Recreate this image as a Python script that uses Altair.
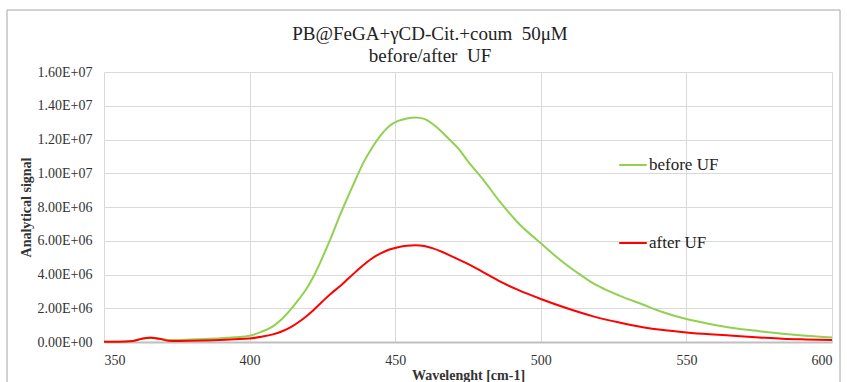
import altair as alt
import pandas as pd

wl_before = [350, 355, 360, 363, 366, 369, 372, 375, 380, 385, 390, 395, 400, 404, 408, 411, 414, 417,
             419.3, 422, 425, 428, 431, 434, 436.5, 439, 442, 445, 448, 451, 454, 457, 460, 463, 466,
             469, 472, 475, 480.4, 486, 492, 500, 505, 509, 513, 516, 519, 522, 527, 535, 542, 550,
             558, 566, 575, 583, 591, 600]
sig_before = [2e4, 2e4, 6e4, 2.0e5, 2.6e5, 2.0e5, 1.1e5, 1.2e5, 1.5e5, 1.8e5, 2.2e5, 2.8e5, 3.7e5, 6.0e5,
              9.3e5, 1.35e6, 1.9e6, 2.55e6, 3.1e6, 3.9e6, 5.0e6, 6.2e6, 7.5e6, 8.7e6, 9.67e6, 1.06e7,
              1.15e7, 1.225e7, 1.28e7, 1.31e7, 1.325e7, 1.331e7, 1.322e7, 1.29e7, 1.245e7, 1.194e7,
              1.14e7, 1.07e7, 9.58e6, 8.3e6, 7.1e6, 5.85e6, 5.1e6, 4.55e6, 4.05e6, 3.7e6, 3.38e6,
              3.12e6, 2.75e6, 2.22e6, 1.76e6, 1.36e6, 1.07e6, 8.3e5, 6.4e5, 4.9e5, 3.7e5, 2.7e5]

wl_after = [350, 355, 360, 363, 366, 369, 372, 375, 380, 385, 390, 395, 400, 404, 408, 411, 414, 417,
            419.3, 422, 425, 428, 431, 434, 436.5, 439, 442, 445, 448, 451, 454, 457, 460, 463, 466,
            470, 474.6, 479, 483, 487, 492, 500, 509, 518, 527, 535, 542, 550, 558, 566, 575, 583,
            591, 600]
sig_after = [1.5e4, 1.5e4, 6e4, 1.9e5, 2.5e5, 1.9e5, 8e4, 6e4, 7e4, 9e4, 1.2e5, 1.6e5, 2.1e5, 3.1e5,
             4.5e5, 6.2e5, 8.6e5, 1.2e6, 1.5e6, 1.9e6, 2.4e6, 2.88e6, 3.3e6, 3.78e6, 4.17e6, 4.55e6,
             4.95e6, 5.25e6, 5.48e6, 5.62e6, 5.71e6, 5.74e6, 5.69e6, 5.55e6, 5.35e6, 5.03e6, 4.66e6,
             4.26e6, 3.87e6, 3.5e6, 3.1e6, 2.55e6, 2.0e6, 1.52e6, 1.15e6, 8.8e5, 7.1e5, 5.7e5,
             4.6e5, 3.7e5, 2.7e5, 1.9e5, 1.5e5, 1.2e5]

series_names = ["before UF", "after UF"]
series_colors = ["#92D050", "#FF0000"]
x_ticks = [350, 400, 450, 500, 550, 600]
y_ticks = [0, 2e6, 4e6, 6e6, 8e6, 1e7, 1.2e7, 1.4e7, 1.6e7]
title_lines = ["PB@FeGA+γCD-Cit.+coum\u00a0\u00a050μM", "before/after\u00a0\u00a0UF"]

df = pd.concat([
    pd.DataFrame({"wl": wl_before, "sig": sig_before, "series": series_names[0], "order": 0}),
    pd.DataFrame({"wl": wl_after, "sig": sig_after, "series": series_names[1], "order": 1}),
])

FONT = "Liberation Serif"

lines = alt.Chart(df).mark_line(strokeWidth=2, interpolate="monotone").encode(
    x=alt.X("wl:Q", scale=alt.Scale(domain=[350, 600], nice=False),
            axis=alt.Axis(values=x_ticks, title="Wavelenght [cm-1]", format="d",
                          ticks=False, labelPadding=11, titlePadding=1,
                          domainColor="#BFBFBF", domainWidth=2)),
    y=alt.Y("sig:Q", scale=alt.Scale(domain=[0, 1.6e7], nice=False),
            axis=alt.Axis(values=y_ticks, title="Analytical signal",
                          labelExpr="replace(format(datum.value, '.2e'), 'e+', 'E+0')",
                          ticks=False, labelPadding=12, titlePadding=4, domain=False)),
    color=alt.Color("series:N", scale=alt.Scale(domain=series_names, range=series_colors),
                    legend=alt.Legend(title=None, orient="none", legendX=514, legendY=78,
                                      symbolType="stroke", symbolStrokeWidth=2, symbolSize=760,
                                      labelFont=FONT, labelFontSize=17, labelColor="#222222",
                                      rowPadding=55, labelOffset=1)),
    order="order:Q",
)

frame = alt.Chart(pd.DataFrame({"a": [0]})).mark_rect(fill=None, stroke="#A6A6A6", strokeWidth=1).encode(
    x=alt.value(-97), x2=alt.value(736), y=alt.value(-62), y2=alt.value(340)
)

chart = alt.layer(frame, lines).properties(
    width=728, height=270,
    autosize=alt.AutoSizeParams(type="none"),
    padding={"left": 104, "top": 72, "right": 15, "bottom": 40},
    background="white",
    title=alt.Title(title_lines,
                    font=FONT, fontSize=19, fontWeight="normal", color="#222222",
                    anchor="middle", dx=-38, offset=0, dy=56, lineHeight=22),
).configure_axis(
    labelFont=FONT, labelFontSize=14, labelColor="#333333",
    titleFont=FONT, titleFontSize=14, titleFontWeight="bold", titleColor="#333333",
    gridColor="#D9D9D9", gridWidth=1,
).configure_view(stroke=None)

chart.save("out.html", embed_options={"renderer": "svg", "actions": False})
